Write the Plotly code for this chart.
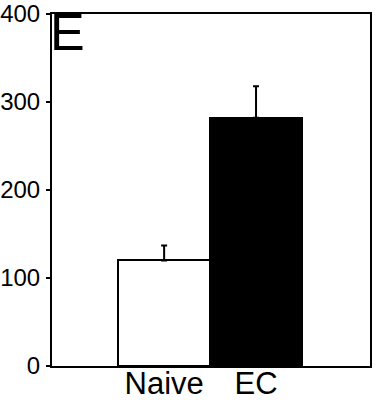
import plotly.graph_objects as go

categories = ["Naive", "EC"]
values = [120, 282]
errors_plus = [17, 36]
bar_colors = ["white", "black"]
y_ticks = [0, 100, 200, 300, 400]
panel_label = "E"

fig = go.Figure()
fig.add_trace(go.Bar(
    x=[0, 1],
    y=values,
    width=1,
    marker=dict(color=bar_colors, line=dict(color="black", width=2)),
    error_y=dict(type="data", symmetric=False, array=errors_plus,
                 arrayminus=[0, 0], color="black", thickness=2, width=3),
    showlegend=False,
))

fig.update_layout(
    width=377, height=400,
    margin=dict(l=52, r=7, t=14, b=34, autoexpand=False),
    paper_bgcolor="white", plot_bgcolor="white",
    font=dict(family="Liberation Sans, Arial, sans-serif", color="black"),
    bargap=0,
)
fig.update_xaxes(
    range=[-1.22, 2.24],
    tickvals=[0, 1], ticktext=categories,
    tickfont=dict(size=31), ticklabelstandoff=-11,
    ticks="", showline=True, mirror=True, linecolor="black", linewidth=2,
    showgrid=False, zeroline=False, fixedrange=True, automargin=False,
)
fig.update_yaxes(
    range=[0, 400],
    tickvals=y_ticks,
    tickfont=dict(size=24), ticklabelstandoff=1,
    ticks="outside", ticklen=4, tickwidth=2, tickcolor="black",
    showline=True, mirror=True, linecolor="black", linewidth=2,
    showgrid=False, zeroline=False, fixedrange=True, automargin=False,
)
fig.add_annotation(
    text=panel_label, xref="paper", yref="paper", x=0.0, y=1.0,
    xanchor="left", yanchor="top", showarrow=False,
    font=dict(size=52), xshift=-4, yshift=13,
)

fig.write_html("out.html", config={"displayModeBar": False},
               post_script="document.body.style.margin='0';")
